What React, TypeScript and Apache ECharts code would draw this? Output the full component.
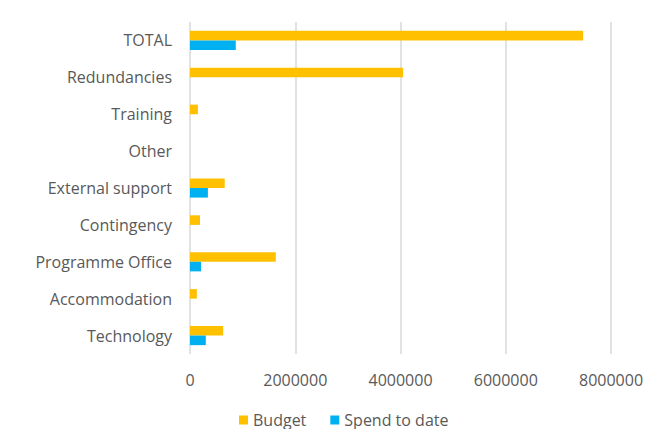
import React, { useEffect, useRef } from "react";
import * as echarts from "echarts";

const categories = [
  "TOTAL",
  "Redundancies",
  "Training",
  "Other",
  "External support",
  "Contingency",
  "Programme Office",
  "Accommodation",
  "Technology",
];
const budget = [7470000, 4050000, 150000, 0, 660000, 190000, 1630000, 130000, 630000];
const spendToDate = [870000, 0, 0, 0, 340000, 0, 210000, 0, 300000];
const xTicks = { min: 0, max: 8000000, interval: 2000000 };

const FONT = "'Open Sans', 'Liberation Sans', sans-serif";
const TEXT = "#595959";

export default function App() {
  const ref = useRef<HTMLDivElement>(null);
  useEffect(() => {
    if (!ref.current) return;
    const chart = echarts.init(ref.current, null, { renderer: "svg" });
    chart.setOption({
      animation: false,
      grid: { left: 190, right: 52, top: 22, bottom: 83, containLabel: false },
      legend: {
        data: ["Budget", "Spend to date"],
        bottom: 4,
        left: 234,
        icon: "rect",
        itemWidth: 9,
        itemHeight: 9,
        itemGap: 24,
        itemTextGap: 6,
        textStyle: { color: TEXT, fontSize: 16, fontFamily: FONT },
      },
      xAxis: {
        type: "value",
        min: xTicks.min,
        max: xTicks.max,
        interval: xTicks.interval,
        axisLine: { show: false },
        axisTick: { show: false },
        splitLine: { show: true, lineStyle: { color: "#d9d9d9", width: 1.5 } },
        axisLabel: {
          color: TEXT,
          fontSize: 16,
          fontFamily: FONT,
          margin: 18,
          formatter: (v: number) => String(v),
        },
      },
      yAxis: {
        type: "category",
        data: categories,
        inverse: true,
        axisLine: { show: false },
        axisTick: { show: false },
        axisLabel: { color: TEXT, fontSize: 16, fontFamily: FONT, margin: 18 },
      },
      series: [
        {
          name: "Budget",
          type: "bar",
          data: budget,
          itemStyle: { color: "#FFC000" },
          barGap: "0%",
          barCategoryGap: "48%",
        },
        {
          name: "Spend to date",
          type: "bar",
          data: spendToDate,
          itemStyle: { color: "#00B0F0" },
          barGap: "0%",
          barCategoryGap: "48%",
        },
      ],
    });
    return () => chart.dispose();
  }, []);
  return <div ref={ref} style={{ width: 663, height: 437, margin: -8 }} />;
}
